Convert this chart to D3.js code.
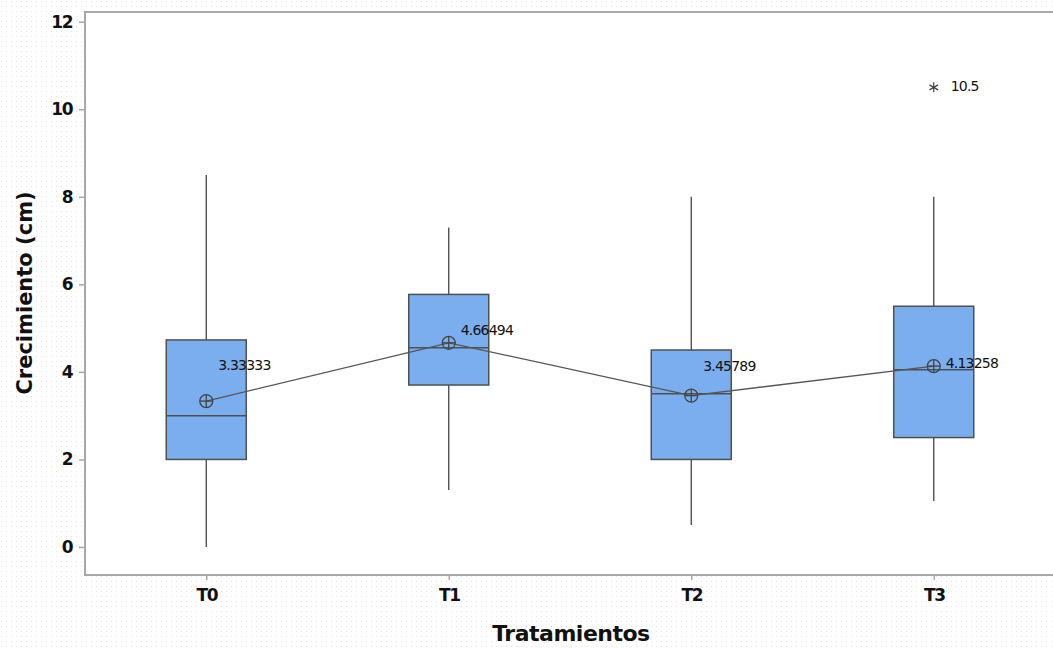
<!DOCTYPE html>
<html><head><meta charset="utf-8">
<script src="https://cdn.jsdelivr.net/npm/d3@7"></script>
<style>html,body{margin:0;padding:0;background:#fff;}svg{display:block;}</style>
</head><body>
<script>
// ---- data ----
const categories = ["T0", "T1", "T2", "T3"];
const q1      = [2.0, 3.7, 2.0, 2.5];
const median  = [3.0, 4.55, 3.5, 4.05];
const q3      = [4.73, 5.77, 4.5, 5.5];
const whiskLo = [0.0, 1.3, 0.5, 1.05];
const whiskHi = [8.5, 7.3, 8.0, 8.0];
const means   = [3.33333, 4.66494, 3.45789, 4.13258];
const meanLabels = ["3.33333", "4.66494", "3.45789", "4.13258"];
const outliers = [{cat: "T3", value: 10.5, label: "10.5"}];
const yTicks = [0, 2, 4, 6, 8, 10, 12];

// ---- layout ----
const W = 1053, H = 648;
const plot = {left: 85, top: 12, right: 1055, bottom: 575};
const labelDy = [-36, -13, -30, -3]; // label placement relative to mean symbol

const svg = d3.select("body").append("svg").attr("width", W).attr("height", H);

const defs = svg.append("defs");
const pat = defs.append("pattern").attr("id", "dots").attr("patternUnits", "userSpaceOnUse")
  .attr("width", 5).attr("height", 5);
pat.append("rect").attr("width", 5).attr("height", 5).attr("fill", "#ffffff");
pat.append("rect").attr("x", 1).attr("y", 1).attr("width", 1).attr("height", 1).attr("fill", "#e6e6e6");
svg.append("rect").attr("width", W).attr("height", H).attr("fill", "url(#dots)");

const x = d3.scalePoint().domain(categories).range([plot.left, plot.right]).padding(0.5);
const y = d3.scaleLinear().domain([0, 12]).range([547, 21.7]);

svg.append("rect").attr("x", plot.left).attr("y", plot.top)
  .attr("width", plot.right - plot.left).attr("height", plot.bottom - plot.top)
  .attr("fill", "#fff").attr("stroke", "#a8a8a8").attr("stroke-width", 2);

// axes
const yAxis = svg.append("g").attr("transform", `translate(${plot.left},0)`)
  .call(d3.axisLeft(y).tickValues(yTicks).tickSize(6).tickPadding(7).tickFormat(d3.format("d")));
const xAxis = svg.append("g").attr("transform", `translate(0,${plot.bottom})`)
  .call(d3.axisBottom(x).tickSize(5).tickPadding(9));
[yAxis, xAxis].forEach(g => {
  g.select(".domain").remove();
  g.selectAll(".tick line").attr("stroke", "#a8a8a8").attr("stroke-width", 1.5);
  g.selectAll(".tick text").attr("fill", "#111").style("font-family", "DejaVu Sans, sans-serif")
    .style("font-weight", "bold").style("font-size", "17px").style("letter-spacing", "-1.5px");
});

// axis titles
svg.append("text").attr("x", (490 + 652) / 2).attr("y", 641).attr("text-anchor", "middle")
  .style("font-family", "DejaVu Sans, sans-serif").style("font-weight", "bold").style("font-size", "22px")
  .style("letter-spacing", "-0.5px").attr("fill", "#111").text("Tratamientos");
svg.append("text").attr("transform", "translate(32,293) rotate(-90)").attr("text-anchor", "middle")
  .style("font-family", "DejaVu Sans, sans-serif").style("font-weight", "bold").style("font-size", "21px")
  .attr("fill", "#111").text("Crecimiento (cm)");

const boxW = 80;
const data = categories.map((c, i) => ({c, i, q1: q1[i], med: median[i], q3: q3[i], lo: whiskLo[i], hi: whiskHi[i], mean: means[i]}));
const g = svg.append("g");
// whiskers
g.selectAll(".wh").data(data).join("line")
  .attr("x1", d => x(d.c)).attr("x2", d => x(d.c)).attr("y1", d => y(d.hi)).attr("y2", d => y(d.q3))
  .attr("stroke", "#444").attr("stroke-width", 1.3);
g.selectAll(".wl").data(data).join("line")
  .attr("x1", d => x(d.c)).attr("x2", d => x(d.c)).attr("y1", d => y(d.q1)).attr("y2", d => y(d.lo))
  .attr("stroke", "#444").attr("stroke-width", 1.3);
// boxes
g.selectAll(".box").data(data).join("rect")
  .attr("x", d => x(d.c) - boxW / 2).attr("width", boxW)
  .attr("y", d => y(d.q3)).attr("height", d => y(d.q1) - y(d.q3))
  .attr("fill", "#7aaeef").attr("stroke", "#505050").attr("stroke-width", 1.5);
g.selectAll(".med").data(data).join("line")
  .attr("x1", d => x(d.c) - boxW / 2).attr("x2", d => x(d.c) + boxW / 2)
  .attr("y1", d => y(d.med)).attr("y2", d => y(d.med))
  .attr("stroke", "#505050").attr("stroke-width", 1.5);

// mean connect line
svg.append("path").datum(data)
  .attr("d", d3.line().x(d => x(d.c)).y(d => y(d.mean)))
  .attr("fill", "none").attr("stroke", "#555").attr("stroke-width", 1.3);

// mean symbols
const ms = svg.selectAll(".ms").data(data).join("g")
  .attr("transform", d => `translate(${x(d.c)},${y(d.mean)})`);
ms.append("circle").attr("r", 6.5).attr("fill", "none").attr("stroke", "#444").attr("stroke-width", 1.3);
ms.append("line").attr("x1", -6.5).attr("x2", 6.5).attr("stroke", "#444").attr("stroke-width", 1.3);
ms.append("line").attr("y1", -6.5).attr("y2", 6.5).attr("stroke", "#444").attr("stroke-width", 1.3);

// mean labels
svg.selectAll(".ml").data(data).join("text")
  .attr("x", d => x(d.c) + 12).attr("y", d => y(d.mean) + labelDy[d.i] + 5)
  .style("font-family", "DejaVu Sans, sans-serif").style("font-size", "14px").style("letter-spacing", "-0.8px")
  .attr("fill", "#111").text(d => meanLabels[d.i]);

// outliers
outliers.forEach(o => {
  const ox = x(o.cat), oy = y(o.value);
  svg.append("path").attr("d", d3.symbol(d3.symbolAsterisk, 70)())
    .attr("transform", `translate(${ox},${oy})`).attr("fill", "none").attr("stroke", "#444").attr("stroke-width", 1.2);
  svg.append("text").attr("x", ox + 17).attr("y", oy + 4)
    .style("font-family", "DejaVu Sans, sans-serif").style("font-size", "14px").style("letter-spacing", "-0.8px")
    .attr("fill", "#111").text(o.label);
});
</script>
</body></html>
